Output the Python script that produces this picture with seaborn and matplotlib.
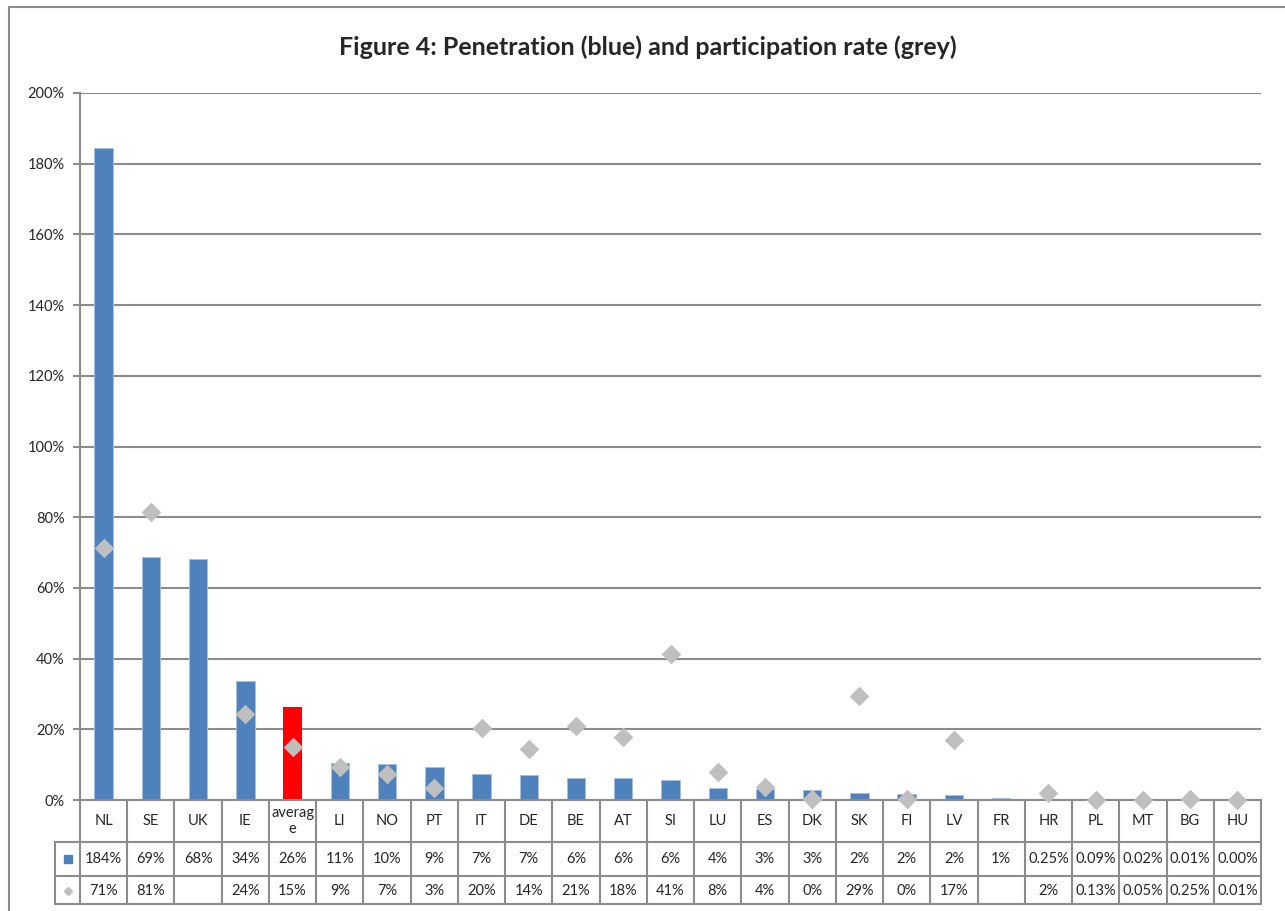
import numpy as np
import pandas as pd
import matplotlib
matplotlib.use("Agg")
import matplotlib.pyplot as plt
import seaborn as sns

categories = ["NL", "SE", "UK", "IE", "average", "LI", "NO", "PT", "IT", "DE", "BE", "AT", "SI",
              "LU", "ES", "DK", "SK", "FI", "LV", "FR", "HR", "PL", "MT", "BG", "HU"]
category_labels = ["NL", "SE", "UK", "IE", "averag\ne", "LI", "NO", "PT", "IT", "DE", "BE", "AT", "SI",
                   "LU", "ES", "DK", "SK", "FI", "LV", "FR", "HR", "PL", "MT", "BG", "HU"]
penetration = [184.4, 68.6, 68.1, 33.6, 26.3, 10.6, 10.3, 9.3, 7.3, 7.0, 6.2, 6.1, 5.6,
               3.5, 3.0, 2.7, 2.1, 1.8, 1.5, 0.6, 0.25, 0.09, 0.02, 0.01, 0.004]
participation = [71.2, 81.4, np.nan, 24.3, 15.1, 9.3, 7.3, 3.4, 20.3, 14.5, 21.0, 17.8, 41.4,
                 7.8, 3.8, 0.3, 29.4, 0.4, 17.1, np.nan, 2.0, 0.13, 0.05, 0.25, 0.01]
penetration_labels = ["184%", "69%", "68%", "34%", "26%", "11%", "10%", "9%", "7%", "7%", "6%", "6%", "6%",
                      "4%", "3%", "3%", "2%", "2%", "2%", "1%", "0.25%", "0.09%", "0.02%", "0.01%", "0.00%"]
participation_labels = ["71%", "81%", "", "24%", "15%", "9%", "7%", "3%", "20%", "14%", "21%", "18%", "41%",
                        "8%", "4%", "0%", "29%", "0%", "17%", "", "2%", "0.13%", "0.05%", "0.25%", "0.01%"]
y_ticks = [0, 20, 40, 60, 80, 100, 120, 140, 160, 180, 200]
title = "Figure 4: Penetration (blue) and participation rate (grey)"

BLUE = "#4F81BD"
RED = "#FF0000"
GREY_MARK = "#BFBFBF"
LINE = "#8C8C8C"

sns.set_theme(style="white")
plt.rcParams["font.family"] = ["Lato", "DejaVu Sans"]

fig = plt.figure(figsize=(12.85, 9.11), dpi=100)
ax = fig.add_axes([80 / 1285, 111 / 911, 1181 / 1285, 707 / 911])

df = pd.DataFrame({"cat": categories, "pen": penetration, "par": participation})
colors = [RED if c == "average" else BLUE for c in categories]
sns.barplot(data=df, x="cat", y="pen", hue="cat", palette=colors, legend=False,
            width=0.39, saturation=1, ax=ax, zorder=2)
for p, c in zip(ax.patches, categories):
    if c != "average":
        p.set_edgecolor("#A9C1E0")
        p.set_linewidth(0.7)
    else:
        p.set_linewidth(0)

sns.stripplot(data=df, x="cat", y="par", jitter=False, marker="D", color=GREY_MARK,
              size=10, linewidth=0, ax=ax, zorder=4)
for coll in ax.collections:
    coll.set_clip_on(False)

ax.set_xlim(-0.5, len(categories) - 0.5)
ax.set_ylim(0, 200)
ax.set_yticks(y_ticks)
ax.set_yticklabels([f"{v}%" for v in y_ticks])
ax.set_xticks([])
ax.set_xlabel("")
ax.set_ylabel("")
ax.yaxis.grid(True, color=LINE, linewidth=1.5)
ax.set_axisbelow(True)
ax.tick_params(axis="y", direction="out", length=5, width=1.5, color=LINE,
               labelsize=10.5, pad=6, left=True)
for s in ["top", "right"]:
    ax.spines[s].set_visible(False)
for s in ["left", "bottom"]:
    ax.spines[s].set_color(LINE)
    ax.spines[s].set_linewidth(1.5)

# Data table below the axis
tr = ax.get_xaxis_transform()
n = len(categories)
px = 1.0 / 707.0
row1 = -42 * px
row2 = -76 * px
row3 = -104 * px
key_left = -0.5 - 25 / (1181 / n)
lkw = dict(color=LINE, linewidth=1.5, transform=tr, clip_on=False, zorder=5)
for i in range(n + 1):
    ax.plot([i - 0.5, i - 0.5], [0, row3], **lkw)
ax.plot([key_left, key_left], [row1, row3], **lkw)
for r in [row1, row2, row3]:
    ax.plot([key_left, n - 0.5], [r, r], **lkw)

tkw = dict(transform=tr, ha="center", va="center", fontsize=10.5, clip_on=False)
for i in range(n):
    ax.text(i, -21 * px, category_labels[i], linespacing=1.1, **tkw)
    ax.text(i, -59 * px, penetration_labels[i], **tkw)
    ax.text(i, -91 * px, participation_labels[i], **tkw)

key_x = (key_left + (-0.5)) / 2
ax.plot([key_x], [-59 * px], marker="s", markersize=6, color=BLUE, linestyle="none",
        transform=tr, clip_on=False)
ax.plot([key_x], [-91 * px], marker="D", markersize=4, color=GREY_MARK, linestyle="none",
        transform=tr, clip_on=False)

# Title
fig.text(648 / 1285, 1 - 47 / 911, title, ha="center", va="center",
         fontsize=18, fontweight="bold")

# Outer chart frame (left and top edges)
fx = 9 / 1285
fy = 1 - 7 / 911
fig.add_artist(plt.Line2D([fx, fx], [0, fy], color=LINE, linewidth=1.5, transform=fig.transFigure))
fig.add_artist(plt.Line2D([fx, 1], [fy, fy], color=LINE, linewidth=1.5, transform=fig.transFigure))

fig.savefig("out.png", dpi=100, facecolor="white")
